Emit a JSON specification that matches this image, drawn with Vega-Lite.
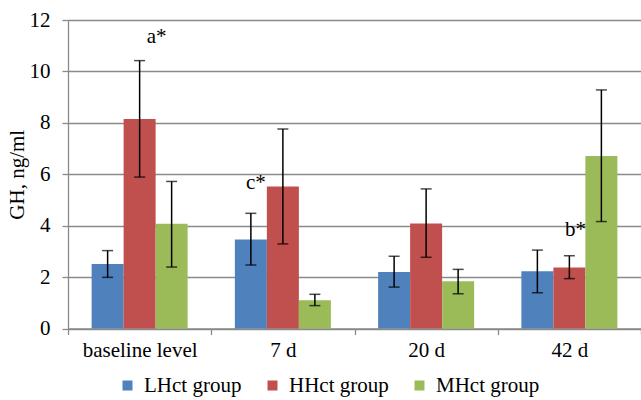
{
  "$schema": "https://vega.github.io/schema/vega-lite/v6.json",
  "autosize": {"type": "none"},
  "padding": {"left": 68, "top": 20, "right": 0, "bottom": 71},
  "width": 573,
  "height": 308.5,
  "config": {
    "view": {"stroke": null},
    "font": "Liberation Serif",
    "axis": {"labelFont": "Liberation Serif", "titleFont": "Liberation Serif"},
    "legend": {"labelFont": "Liberation Serif"},
    "text": {"font": "Liberation Serif"}
  },
  "data": {
    "values": [
      {"cat": "baseline level", "group": "LHct group", "value": 2.51, "lo": 1.99, "hi": 3.03},
      {"cat": "baseline level", "group": "HHct group", "value": 8.15, "lo": 5.89, "hi": 10.42},
      {"cat": "baseline level", "group": "MHct group", "value": 4.07, "lo": 2.39, "hi": 5.72},
      {"cat": "7 d", "group": "LHct group", "value": 3.46, "lo": 2.47, "hi": 4.48},
      {"cat": "7 d", "group": "HHct group", "value": 5.52, "lo": 3.29, "hi": 7.76},
      {"cat": "7 d", "group": "MHct group", "value": 1.1, "lo": 0.89, "hi": 1.33},
      {"cat": "20 d", "group": "LHct group", "value": 2.2, "lo": 1.61, "hi": 2.81},
      {"cat": "20 d", "group": "HHct group", "value": 4.08, "lo": 2.77, "hi": 5.43},
      {"cat": "20 d", "group": "MHct group", "value": 1.84, "lo": 1.35, "hi": 2.3},
      {"cat": "42 d", "group": "LHct group", "value": 2.23, "lo": 1.39, "hi": 3.05},
      {"cat": "42 d", "group": "HHct group", "value": 2.37, "lo": 1.94, "hi": 2.83},
      {"cat": "42 d", "group": "MHct group", "value": 6.71, "lo": 4.16, "hi": 9.28}
    ]
  },
  "encoding": {
    "x": {
      "field": "cat", "type": "nominal",
      "sort": ["baseline level", "7 d", "20 d", "42 d"],
      "scale": {"paddingInner": 0, "paddingOuter": 0},
      "axis": {
        "title": null, "labelAngle": 0, "tickBand": "extent",
        "tickSize": 6, "tickColor": "#8a8a8a", "domainColor": "#8a8a8a", "tickWidth": 1.3, "domainWidth": 1.3,
        "labelFont": "Liberation Serif", "labelFontSize": 21, "labelColor": "#000000", "labelPadding": 5
      }
    },
    "xOffset": {
      "field": "group", "type": "nominal",
      "sort": ["LHct group", "HHct group", "MHct group"],
      "scale": {"paddingInner": 0, "paddingOuter": 0.738}
    }
  },
  "layer": [
    {
      "mark": {"type": "bar"},
      "encoding": {
        "y": {
          "field": "value", "type": "quantitative",
          "scale": {"domain": [0, 12]},
          "axis": {
            "title": "GH, ng/ml", "values": [0, 2, 4, 6, 8, 10, 12],
            "grid": true, "gridColor": "#8a8a8a", "gridWidth": 1.3,
            "domainColor": "#8a8a8a", "domainWidth": 1.3, "tickColor": "#8a8a8a", "tickWidth": 1.3, "tickSize": 6,
            "labelFont": "Liberation Serif", "labelFontSize": 21, "labelColor": "#000000", "labelPadding": 12,
            "titleFont": "Liberation Serif", "titleFontSize": 21, "titleFontWeight": "normal", "titleColor": "#000000", "titlePadding": 2
          }
        },
        "color": {
          "field": "group", "type": "nominal",
          "scale": {"domain": ["LHct group", "HHct group", "MHct group"], "range": ["#4F81BD", "#C0504D", "#9BBB59"]},
          "legend": {
            "title": null, "orient": "none", "direction": "horizontal", "columns": 3, "gridAlign": "none",
            "legendX": 49, "legendY": 355,
            "symbolType": "square", "symbolSize": 100, "symbolStrokeWidth": 0, "symbolOpacity": 1,
            "labelFont": "Liberation Serif", "labelFontSize": 21, "labelColor": "#000000", "labelOffset": 6,
            "columnPadding": 20
          }
        }
      }
    },
    {
      "mark": {"type": "rule", "color": "#000000", "strokeWidth": 1.5},
      "encoding": {
        "y": {"field": "lo", "type": "quantitative"},
        "y2": {"field": "hi"}
      }
    },
    {
      "mark": {"type": "tick", "orient": "horizontal", "color": "#000000", "size": 11, "thickness": 1.5},
      "encoding": {"y": {"field": "lo", "type": "quantitative"}}
    },
    {
      "mark": {"type": "tick", "orient": "horizontal", "color": "#000000", "size": 11, "thickness": 1.5},
      "encoding": {"y": {"field": "hi", "type": "quantitative"}}
    },
    {
      "data": {"values": [{"cat": "baseline level", "group": "HHct group", "label": "a*", "pos": 11.09}]},
      "mark": {"type": "text", "fontSize": 21, "font": "Liberation Serif", "color": "#000000", "baseline": "alphabetic", "dx": 17},
      "encoding": {"y": {"field": "pos", "type": "quantitative"}, "text": {"field": "label"}}
    },
    {
      "data": {"values": [{"cat": "7 d", "group": "HHct group", "label": "c*", "pos": 5.42}]},
      "mark": {"type": "text", "fontSize": 21, "font": "Liberation Serif", "color": "#000000", "baseline": "alphabetic", "dx": -27},
      "encoding": {"y": {"field": "pos", "type": "quantitative"}, "text": {"field": "label"}}
    },
    {
      "data": {"values": [{"cat": "42 d", "group": "HHct group", "label": "b*", "pos": 3.61}]},
      "mark": {"type": "text", "fontSize": 21, "font": "Liberation Serif", "color": "#000000", "baseline": "alphabetic", "dx": 6},
      "encoding": {"y": {"field": "pos", "type": "quantitative"}, "text": {"field": "label"}}
    }
  ]
}
